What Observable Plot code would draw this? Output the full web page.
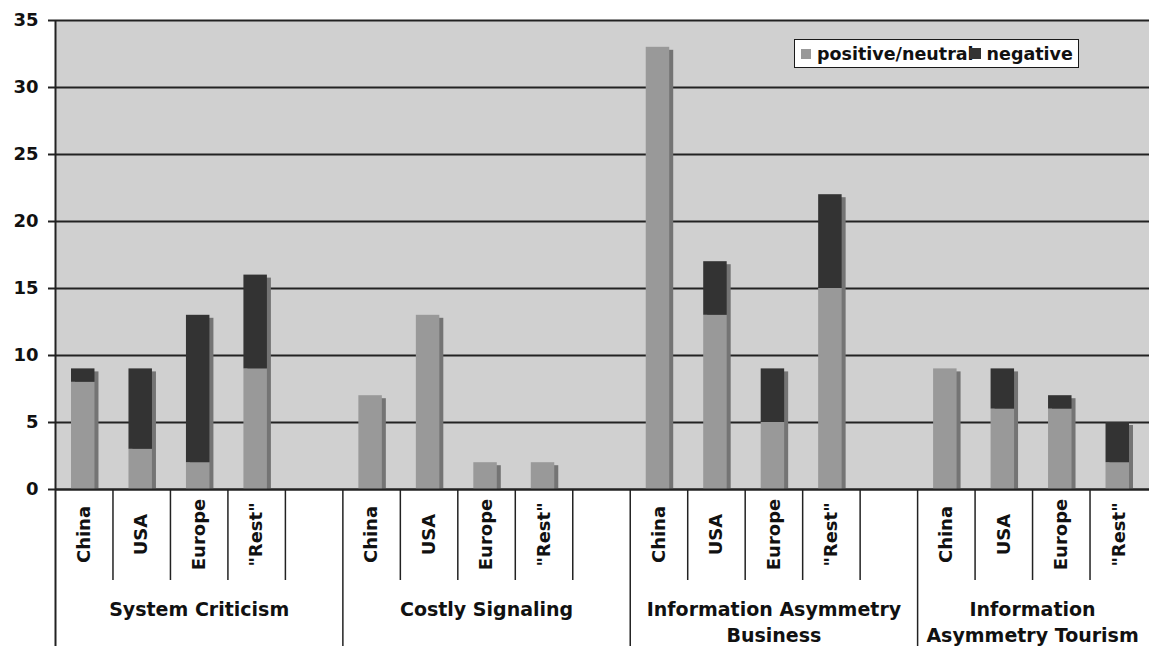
<!DOCTYPE html>
<html>
<head>
<meta charset="utf-8">
<script src="https://cdn.jsdelivr.net/npm/d3@7"></script>
<script src="https://cdn.jsdelivr.net/npm/@observablehq/plot@0.6"></script>
<style>
  body { margin: 0; background: #fff; font-family: "DejaVu Sans", Verdana, sans-serif; }
  #chart { position: relative; width: 1149px; height: 646px; }
  #chart svg { display: block; }
  .legend {
    position: absolute; left: 794px; top: 39px; width: 283px; height: 27px;
    border: 1.5px solid #1a1a1a; background: #fff;
    display: flex; align-items: center; white-space: nowrap; overflow: hidden;
    font-weight: bold; font-size: 17.5px; color: #111;
  }
  .legend .sw { display: inline-block; width: 10px; height: 10px; flex: none; }
</style>
</head>
<body>
<div id="chart"></div>
<script>
// Article counts per topic and region, split by tone
const groups = ["System Criticism", "Costly Signaling", "Information Asymmetry Business", "Information Asymmetry Tourism"];
const groupLabels = ["System Criticism", "Costly Signaling", "Information Asymmetry\nBusiness", "Information\nAsymmetry Tourism"];
const regions = ["China", "USA", "Europe", "\"Rest\""];
const positive = [
  [8, 3, 2, 9],
  [7, 13, 2, 2],
  [33, 13, 5, 15],
  [9, 6, 6, 2]
];
const negative = [
  [1, 6, 11, 7],
  [0, 0, 0, 0],
  [0, 4, 4, 7],
  [0, 3, 1, 3]
];
const seriesNames = ["positive/neutral", "negative"];
const seriesColors = ["#999999", "#333333"];
const yTicks = [0, 5, 10, 15, 20, 25, 30, 35];

// Each topic gets one slot per region plus an empty spacer slot (none after the last topic)
const slotsPerGroup = regions.length + 1;
const slotCount = groups.length * slotsPerGroup - 1;

const rows = [];
groups.forEach((g, gi) => regions.forEach((r, ri) => {
  const pos = positive[gi][ri], neg = negative[gi][ri];
  rows.push({group: g, region: r, slot: gi * slotsPerGroup + ri, pos, neg, total: pos + neg});
}));

const segments = rows.flatMap(d => [
  {slot: d.slot, series: seriesNames[0], y1: 0, y2: d.pos},
  {slot: d.slot, series: seriesNames[1], y1: d.pos, y2: d.total}
]).filter(s => s.y2 > s.y1);

const groupSpans = groups.map((g, gi) => {
  const start = gi * slotsPerGroup;
  const end = Math.min(start + slotsPerGroup, slotCount);
  return {label: groupLabels[gi], start, center: (start + end) / 2};
});

const innerTicks = groups.flatMap((g, gi) =>
  d3.range(1, slotsPerGroup).map(k => gi * slotsPerGroup + k)
).filter(x => x < slotCount);
const groupStarts = groupSpans.map(s => s.start).filter(x => x > 0);

const plotHeight = 646, mTop = 20, mBottom = 157;
const frameH = plotHeight - mTop - mBottom;

const chart = Plot.plot({
  width: 1149,
  height: plotHeight,
  marginLeft: 55,
  marginRight: 2,
  marginTop: mTop,
  marginBottom: mBottom,
  style: {fontFamily: "DejaVu Sans, Verdana, sans-serif", fontWeight: "bold", fontSize: "18px", color: "#111", background: "transparent", overflow: "visible"},
  x: {domain: [0, slotCount], axis: null},
  y: {domain: [0, 35], axis: null},
  color: {domain: seriesNames, range: seriesColors},
  marks: [
    Plot.frame({fill: "#d0d0d0", stroke: "none", insetRight: -2}),
    Plot.ruleY(yTicks, {stroke: "#222", strokeWidth: 2, insetRight: -2}),
    // drop shadow behind each column
    Plot.rectY(rows, {x1: "slot", x2: d => d.slot + 1, y1: 0, y2: "total", fill: "#747474", insetLeft: 16, insetRight: 18, insetBottom: 3, dx: 4, dy: 3}),
    Plot.rectY(segments, {x1: "slot", x2: d => d.slot + 1, y1: "y1", y2: "y2", fill: "series", insetLeft: 16, insetRight: 18}),
    Plot.ruleY([0], {stroke: "#222", strokeWidth: 2, insetRight: -2}),
    Plot.axisY({ticks: yTicks, tickSize: 7, tickPadding: 10, strokeWidth: 2, stroke: "#222", fontSize: 18, fontWeight: "bold", fill: "#111"}),
    // category separators below the plot
    Plot.ruleX([0], {stroke: "#222", strokeWidth: 2, insetBottom: -mBottom}),
    Plot.ruleX(groupStarts, {stroke: "#222", strokeWidth: 1.5, insetTop: frameH, insetBottom: -mBottom}),
    Plot.ruleX(innerTicks, {stroke: "#222", strokeWidth: 1.5, insetTop: frameH, insetBottom: -91}),
    Plot.text(rows, {x: d => d.slot + 0.5, text: "region", frameAnchor: "bottom", dy: 45, rotate: -90, textAnchor: "middle", lineAnchor: "middle", fontSize: 18, fontWeight: "bold", fill: "#111"}),
    Plot.text(groupSpans, {x: "center", text: "label", frameAnchor: "bottom", dy: 108, lineAnchor: "top", lineHeight: 1.37, fontSize: 19, fontWeight: "bold", fill: "#111"})
  ]
});

const root = document.getElementById("chart");
root.appendChild(chart);

// legend box inside the plot area
const legend = document.createElement("div");
legend.className = "legend";
const swatch = (color, style) => {
  const s = document.createElement("span");
  s.className = "sw";
  s.style.background = color;
  Object.assign(s.style, style);
  return s;
};
const label = text => {
  const t = document.createElement("span");
  t.textContent = text;
  return t;
};
legend.appendChild(swatch(seriesColors[0], {marginLeft: "6px", marginRight: "6px"}));
legend.appendChild(label(seriesNames[0]));
legend.appendChild(swatch(seriesColors[1], {marginLeft: "-4px", marginRight: "6px", width: "11px", height: "11px", position: "relative"}));
legend.appendChild(label(seriesNames[1]));
root.appendChild(legend);
</script>
</body>
</html>
